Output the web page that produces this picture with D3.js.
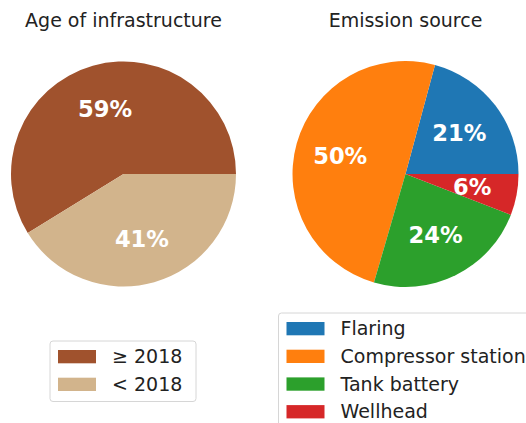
<!DOCTYPE html>
<html>
<head>
<meta charset="utf-8">
<script src="https://cdn.jsdelivr.net/npm/d3@7"></script>
<style>
  body { margin: 0; background: #fff; }
  svg { display: block; font-family: "DejaVu Sans", sans-serif; }
</style>
</head>
<body>
<svg id="chart"></svg>
<script>
// age of infrastructure
const ageLabels = ['\u2265 2018', '< 2018'];
const agePct = [58.8, 41.2];
const ageColors = ['#a0522d', '#d2b48c'];

// emission source
const sourceLabels = ['Flaring', 'Compressor station', 'Tank battery', 'Wellhead'];
const sourcePct = [20.8, 49.7, 23.6, 5.9];
const sourceColors = ['#1f77b4', '#ff7f0e', '#2ca02c', '#d62728'];

const W = 526, H = 423;
const svg = d3.select('#chart').attr('width', W).attr('height', H);

function drawPie(cfg) {
    let g = svg.append('g').attr('transform', `translate(${cfg.cx},${cfg.cy})`);
    let color = d3.scaleOrdinal().domain(cfg.labels).range(cfg.colors);

    // matplotlib style: start at 3 o'clock, go counter-clockwise
    let pie = d3.pie().sort(null)
        .value(d => d.v)
        .startAngle(Math.PI / 2)
        .endAngle(Math.PI / 2 - 2 * Math.PI);
    let arcs = pie(cfg.labels.map((l, i) => ({ l: l, v: cfg.values[i] })));

    let arc = d3.arc().innerRadius(0).outerRadius(cfg.r);
    let labelArc = d3.arc().innerRadius(cfg.r * 0.6).outerRadius(cfg.r * 0.6);

    g.selectAll('path').data(arcs).join('path')
        .attr('d', arc)
        .attr('fill', d => color(d.data.l));

    g.selectAll('text.pct').data(arcs).join('text')
        .attr('class', 'pct')
        .attr('transform', d => `translate(${labelArc.centroid(d)})`)
        .attr('text-anchor', 'middle')
        .attr('dy', '0.36em')
        .attr('fill', '#fff')
        .attr('font-weight', 'bold')
        .attr('font-size', 22.6)
        .text(d => d3.format('.0f')(d.data.v) + '%');

    svg.append('text')
        .attr('x', cfg.cx).attr('y', 27)
        .attr('text-anchor', 'middle')
        .attr('font-size', 19)
        .attr('fill', '#222')
        .text(cfg.title);

    // legend
    let lg = svg.append('g').attr('transform', `translate(${cfg.lx},${cfg.ly})`);
    let rowY = d3.scalePoint().domain(cfg.labels).range([0, 27.7 * (cfg.labels.length - 1)]);
    lg.append('rect')
        .attr('x', 0).attr('y', 0)
        .attr('width', cfg.lw).attr('height', cfg.lh)
        .attr('rx', 3)
        .attr('fill', '#fff')
        .attr('stroke', '#d6d6d6')
        .attr('stroke-width', 1);
    let rows = lg.selectAll('g.row').data(cfg.labels).join('g')
        .attr('class', 'row')
        .attr('transform', d => `translate(8,${9 + rowY(d)})`);
    rows.append('rect')
        .attr('width', 38).attr('height', 13.3)
        .attr('fill', d => color(d));
    rows.append('text')
        .attr('x', 54).attr('y', 13.3)
        .attr('font-size', 19)
        .attr('fill', '#222')
        .text(d => d);
}

drawPie({
    title: 'Age of infrastructure',
    labels: ageLabels, values: agePct, colors: ageColors,
    cx: 123.5, cy: 174, r: 112.5,
    lx: 50, ly: 341, lw: 146, lh: 60.5
});

drawPie({
    title: 'Emission source',
    labels: sourceLabels, values: sourcePct, colors: sourceColors,
    cx: 405.5, cy: 174, r: 113,
    lx: 278.5, ly: 313, lw: 260, lh: 120
});
</script>
</body>
</html>
